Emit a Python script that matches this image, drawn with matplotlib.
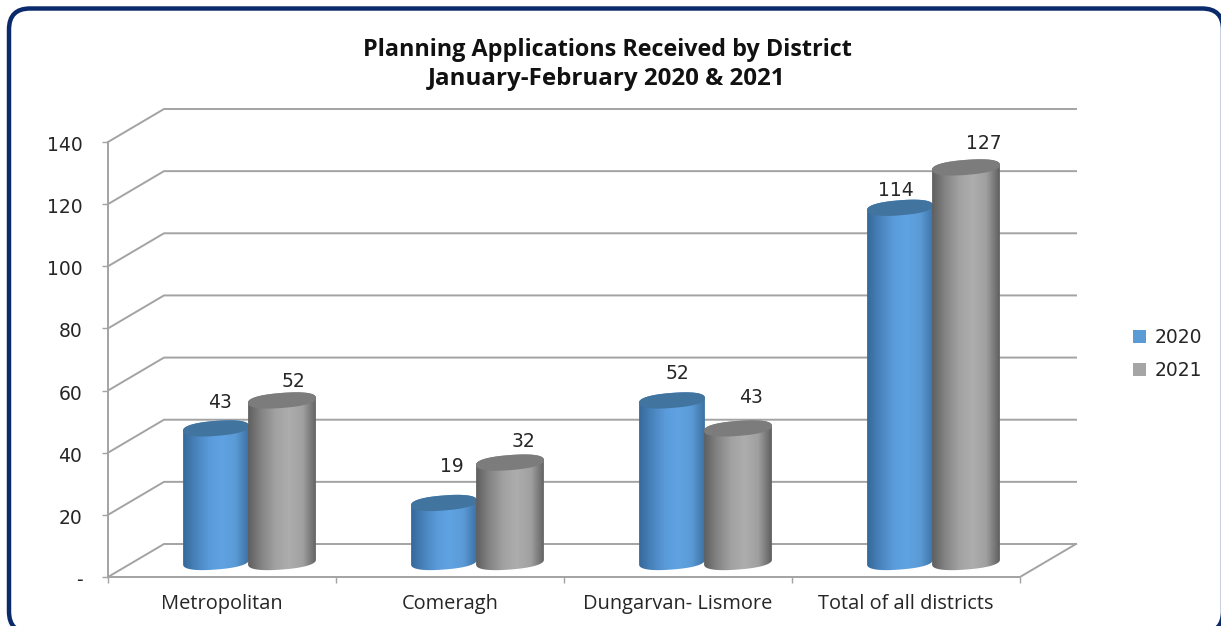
import numpy as np
import matplotlib
matplotlib.use("Agg")
import matplotlib.pyplot as plt
from matplotlib.colors import LinearSegmentedColormap
from matplotlib.patches import FancyBboxPatch, Patch, Polygon
from matplotlib.transforms import ScaledTranslation

districts = ["Metropolitan", "Comeragh", "Dungarvan- Lismore", "Total of all districts"]
years = ["2020", "2021"]
values_2020 = [43, 19, 52, 114]
values_2021 = [52, 32, 43, 127]
y_ticks = [0, 20, 40, 60, 80, 100, 120, 140]
y_tick_labels = ["-", "20", "40", "60", "80", "100", "120", "140"]

W, H = 1221, 626
plt.rcParams["font.family"] = ["Open Sans", "DejaVu Sans"]
NUM_FONT = "DejaVu Sans"

GRID = "#a3a3a3"
TEXT = "#262626"
blue_map = LinearSegmentedColormap.from_list("b", ["#35699a", "#4a84be", "#5a9bdb", "#60a3e3", "#5a9ad6", "#3d72a3"])
gray_map = LinearSegmentedColormap.from_list("g", ["#5f5f5f", "#858585", "#a2a2a2", "#adadad", "#a0a0a0", "#5f5f5f"])

fig = plt.figure(figsize=(W / 100, H / 100), dpi=100, facecolor="white")

# rounded frame, runs off the right and bottom of the image
back = fig.add_axes([0, 0, 1, 1])
back.set_xlim(0, W)
back.set_ylim(H, 0)
back.axis("off")
back.add_patch(FancyBboxPatch((9, 8.5), 1214, 624, boxstyle="round,pad=0,rounding_size=21",
                              fc="white", ec="#0b2a6b", lw=3.2))

# axes = the front plane of the 3d box
ax = fig.add_axes([108 / W, (H - 577) / H, 912 / W, 435 / H])
ax.set_facecolor("none")
ax.set_xlim(0, 4)
ax.set_ylim(0, 140)
for s in ax.spines.values():
    s.set_visible(False)

px_x = 4 / 912
px_y = 140 / 435
dx = 56 * px_x
dy = 33 * px_y

line = dict(color=GRID, lw=1.4, clip_on=False, zorder=1, solid_capstyle="projecting")
for v in y_ticks:
    ax.plot([0, dx, 4 + dx], [v, v + dy, v + dy], **line)
ax.plot([0, 0], [0, 140], **line)
ax.plot([0, 4, 4 + dx], [0, 0, dy], **line)

ax.set_xticks(range(5))
ax.set_xticklabels([])
ax.set_yticks(y_ticks)
ax.set_yticklabels(y_tick_labels, fontsize=13.5, color=TEXT, family=NUM_FONT)
ax.tick_params(axis="both", length=4.5, width=1.0, color=GRID)
ax.tick_params(axis="y", pad=14)
# labels sit a little under their ticks
for lab in ax.get_yticklabels():
    lab.set_transform(lab.get_transform() + ScaledTranslation(0, -1.5 / 100, fig.dpi_scale_trans))
for i, name in enumerate(districts):
    ax.annotate(name, (i + 0.5, 0), xytext=(0, -27), textcoords="offset pixels",
                ha="center", va="center", fontsize=14.4, color=TEXT, annotation_clip=False)


def ellipse_xy(cx, cy, a, b, t):
    # a, b and the tilt are in pixels, the result in data units
    r = np.radians(4.5)
    c = np.sign(np.cos(t)) * np.abs(np.cos(t)) ** 0.85
    s = np.sign(np.sin(t)) * np.abs(np.sin(t)) ** 0.85
    ex = a * c * np.cos(r) - b * s * np.sin(r)
    ey = a * c * np.sin(r) + b * s * np.cos(r)
    return cx + ex * px_x, cy + ey * px_y


base = dy / 2 - 1.5 * px_y


def cylinder(center, value, cmap, top_color, half_w, z):
    top = base + value
    t_low = np.linspace(np.pi, 2 * np.pi, 60)
    t_up = np.linspace(0, np.pi, 60)
    x0, y0 = ellipse_xy(center, base, half_w, 7.5, t_low)
    x1, y1 = ellipse_xy(center, top, half_w, 7.5, t_up)
    body = Polygon(np.column_stack([np.r_[x0, x1], np.r_[y0, y1]]), transform=ax.transData,
                   fc="none", ec="none")
    ax.add_patch(body)
    left, right = center - half_w * px_x, center + half_w * px_x
    im = ax.imshow(np.linspace(0, 1, 128).reshape(1, -1), cmap=cmap, aspect="auto",
                   extent=[left, right, y0.min() - 1, y1.max() + 1], zorder=z)
    im.set_clip_path(body)
    tx, ty = ellipse_xy(center, top, half_w, 7.5, np.linspace(0, 2 * np.pi, 120))
    ax.fill(tx, ty, color=top_color, lw=0, zorder=z + 0.1)


label_shift_2020 = [(4, 26), (8, 36), (5, 27), (-4, 17)]
label_shift_2021 = [(11, 19), (13, 21), (13, 31), (18, 24)]
for i in range(4):
    c = i + 0.5 + dx / 2 - 1.5 * px_x
    c0, c1 = c - 32.5 * px_x, c + 33.5 * px_x
    cylinder(c0, values_2020[i], blue_map, "#41749f", 33, 3)
    cylinder(c1, values_2021[i], gray_map, "#7c7c7c", 34, 4)
    for cx, val, shift in ((c0, values_2020[i], label_shift_2020[i]),
                           (c1, values_2021[i], label_shift_2021[i])):
        ax.annotate(str(val), (cx, val + base), xytext=shift, textcoords="offset pixels",
                    ha="center", va="center", fontsize=13.5, color=TEXT, family=NUM_FONT,
                    annotation_clip=False)
ax.set_xlim(0, 4)
ax.set_ylim(0, 140)

fig.text(607 / W, 1 - 50 / H, "Planning Applications Received by District", ha="center", va="center",
         fontsize=16.8, fontweight="bold", color="#111111")
fig.text(607 / W, 1 - 79 / H, "January-February 2020 & 2021", ha="center", va="center",
         fontsize=17.4, fontweight="bold", color="#111111")

handles = [Patch(color="#5b9bd5", lw=0), Patch(color="#a5a5a5", lw=0)]
fig.legend(handles, years, loc="center left", bbox_to_anchor=(1116 / W, 1 - 354 / H), frameon=False,
           prop={"family": NUM_FONT, "size": 13.5}, handlelength=0.7, handleheight=0.7,
           handletextpad=0.45, labelspacing=0.72, labelcolor=TEXT)

fig.savefig("out.png", dpi=100)
